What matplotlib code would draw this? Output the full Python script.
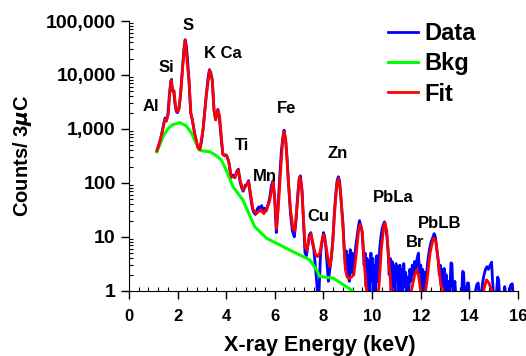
import matplotlib
matplotlib.use('Agg')
import matplotlib.pyplot as plt
from matplotlib.ticker import FixedLocator, LogLocator, NullFormatter, MultipleLocator

plt.rcParams['font.family'] = ['Liberation Sans', 'DejaVu Sans']
plt.rcParams['font.weight'] = 'bold'

# measured spectrum (keV, counts)
data_e = [1.15, 1.20, 1.26, 1.32, 1.38, 1.44, 1.49, 1.54, 1.60, 1.66, 1.72, 1.75, 1.79, 1.84, 1.89, 1.95,
          2.00, 2.06, 2.12, 2.19, 2.26, 2.31, 2.36, 2.41, 2.47, 2.54, 2.61, 2.70, 2.78, 2.85, 2.92, 2.99,
          3.05, 3.12, 3.18, 3.25, 3.31, 3.37, 3.43, 3.50, 3.56, 3.61, 3.66, 3.72, 3.79, 3.86, 3.93, 4.00,
          4.06, 4.12, 4.20, 4.28, 4.36, 4.44, 4.50, 4.57, 4.64, 4.70, 4.78, 4.86, 4.92, 4.99, 5.06, 5.12,
          5.20, 5.28, 5.34, 5.40, 5.46, 5.52, 5.58, 5.64, 5.70, 5.78, 5.86, 5.93, 6.00, 6.06, 6.12, 6.20,
          6.27, 6.33, 6.38, 6.44, 6.50, 6.56, 6.64, 6.72, 6.80, 6.87, 6.94, 7.00, 7.05, 7.12, 7.18, 7.24,
          7.30, 7.36, 7.42, 7.48, 7.54, 7.60, 7.66, 7.72, 7.76, 7.82, 7.88, 7.94, 8.00, 8.05, 8.10, 8.15,
          8.20, 8.26, 8.32, 8.38, 8.44, 8.50, 8.56, 8.61, 8.66, 8.72, 8.80, 8.86, 8.90, 8.94, 8.98, 9.02,
          9.06, 9.10, 9.14, 9.18, 9.22, 9.28, 9.33, 9.38, 9.43, 9.48, 9.53, 9.58, 9.63, 9.67, 9.71, 9.75,
          9.79, 9.83, 9.87, 9.91, 9.95, 9.99, 10.03, 10.07, 10.11, 10.15, 10.19, 10.23, 10.27, 10.31, 10.36, 10.41,
          10.46, 10.51, 10.56, 10.61, 10.66, 10.70, 10.74, 10.78, 10.82, 10.86, 10.90, 10.94, 10.98, 11.02, 11.06, 11.10,
          11.14, 11.18, 11.22, 11.26, 11.30, 11.34, 11.38, 11.42, 11.46, 11.50, 11.55, 11.60, 11.65, 11.70, 11.75, 11.80,
          11.85, 11.90, 11.95, 12.00, 12.04, 12.08, 12.12, 12.16, 12.20, 12.25, 12.30, 12.36, 12.42, 12.48, 12.55, 12.60,
          12.66, 12.72, 12.76, 12.80, 12.84, 12.88, 12.92, 12.96, 13.00, 13.04, 13.08, 13.12, 13.16, 13.20, 13.24, 13.28,
          13.32, 13.36, 13.40, 13.44, 13.50, 13.56, 13.62, 13.68, 13.72, 13.76, 13.80, 13.86, 13.92, 13.96, 14.00, 14.10,
          14.20, 14.30, 14.36, 14.40, 14.50, 14.55, 14.60, 14.66, 14.72, 14.78, 14.85, 14.91, 14.95, 15.00, 15.10, 15.16,
          15.20, 15.24, 15.30, 15.40, 15.45, 15.50, 15.60, 15.70, 15.76, 15.80]
data_c = [380, 450, 560, 700, 950, 1300, 1600, 1400, 1800, 4000, 7500, 8300, 5200, 5200, 3000, 2100,
          2000, 2400, 4200, 11000, 29000, 45000, 36000, 20000, 8000, 2000, 1450, 850, 560, 440, 420, 600,
          1000, 2200, 4200, 8500, 12500, 11000, 7800, 2200, 1500, 1900, 2300, 1600, 700, 340, 320, 330,
          290, 230, 125, 140, 125, 165, 180, 105, 80, 70, 90, 95, 110, 60, 38, 29,
          26, 33, 36, 30, 38, 28, 34, 30, 36, 50, 90, 110, 45, 12, 30, 130,
          400, 700, 950, 650, 300, 100, 28, 13, 10, 20, 60, 120, 135, 70, 18, 5,
          4.5, 7, 11, 12, 8, 6, 3, 1.5, 0.8, 1, 5, 8, 12, 10, 6, 3,
          1.5, 2.5, 4, 8, 25, 60, 110, 130, 110, 50, 18, 5, 3, 5.5, 2, 4.5,
          1.5, 5.8, 2.2, 5, 2, 4, 7, 10, 15, 20, 16, 13, 6, 3, 5, 1.2,
          4, 0.8, 3.5, 1, 5, 1.5, 4, 0.8, 3, 1, 4.5, 1.5, 3, 6, 10, 14,
          17, 19, 14, 10, 5, 2, 4, 0.8, 3.5, 1.2, 2.8, 0.8, 3.2, 1.5, 2.8, 0.8,
          3, 1, 2.5, 0.8, 3.2, 1.2, 2.2, 0.8, 1.8, 0.8, 2.5, 1.5, 3, 2, 3.5, 2.5,
          4, 5, 2.2, 3, 1, 2.5, 0.8, 2.2, 1.5, 2.5, 4, 6, 8, 9.5, 11.5, 10,
          6, 3.5, 2, 3, 1.2, 2.5, 1, 2.6, 0.8, 2, 0.8, 1.5, 0.8, 1.2, 3.3, 3.2,
          1, 0.8, 1.5, 0.8, 0.8, 0.8, 0.8, 0.8, 2.3, 2.2, 0.8, 0.8, 1.4, 1.4, 0.8, 0.8,
          0.8, 1.3, 1.4, 0.8, 1, 1.5, 2, 2.5, 2.8, 2.5, 3, 3.4, 1.5, 0.8, 0.8, 1.8,
          1.6, 0.8, 0.8, 0.8, 1.2, 0.8, 0.8, 1.3, 1.35, 0.8]

# background
bkg_e = [1.15, 1.25, 1.40, 1.60, 1.80, 2.09, 2.35, 2.57, 2.75, 2.91, 3.05, 3.32, 3.55, 3.80, 4.00,
         4.28, 4.69, 5.17, 5.65, 6.20, 6.75, 7.44, 7.71, 7.85, 8.40, 9.20]
bkg_c = [380, 480, 720, 1000, 1200, 1310, 1150, 840, 560, 410, 390, 380, 330, 267, 174,
         85, 48, 15.5, 9.5, 7.1, 5.3, 3.75, 2.45, 1.85, 1.72, 1.0]

# fitted spectrum
fit_e = [1.15, 1.22, 1.30, 1.40, 1.48, 1.55, 1.62, 1.68, 1.74, 1.80, 1.86, 1.92, 1.98, 2.05, 2.12, 2.20,
         2.27, 2.32, 2.35, 2.40, 2.47, 2.55, 2.61, 2.70, 2.84, 2.91, 3.05, 3.18, 3.32, 3.43, 3.50, 3.57,
         3.66, 3.73, 3.80, 3.87, 3.94, 4.02, 4.10, 4.21, 4.35, 4.49, 4.58, 4.69, 4.80, 4.92, 5.00, 5.10,
         5.24, 5.35, 5.45, 5.55, 5.65, 5.78, 5.93, 6.00, 6.07, 6.15, 6.25, 6.32, 6.38, 6.45, 6.55, 6.65,
         6.75, 6.82, 6.92, 7.02, 7.10, 7.18, 7.25, 7.32, 7.40, 7.48, 7.56, 7.65, 7.75, 7.85, 7.95, 8.02,
         8.10, 8.20, 8.28, 8.38, 8.48, 8.56, 8.62, 8.70, 8.80, 8.90, 8.97, 9.05, 9.15, 9.25, 9.35, 9.45,
         9.52, 9.60, 9.68, 9.77, 9.85, 10.20, 10.28, 10.38, 10.48, 10.53, 10.60, 10.70, 10.80, 11.50, 11.65, 11.75,
         11.83, 11.92, 12.02, 12.15, 12.25, 12.38, 12.50, 12.55, 12.62, 12.72, 12.82, 12.90, 13.00, 14.50, 14.60, 14.70,
         14.80, 14.90, 15.00]
fit_c = [400, 480, 650, 1000, 1500, 1450, 1900, 4500, 8000, 5000, 5000, 2600, 2100, 2300, 4000, 12000,
         30000, 44000, 32000, 16000, 8100, 1950, 1480, 830, 450, 410, 960, 4000, 12400, 8100, 2240, 1470,
         2240, 1700, 720, 330, 330, 320, 250, 130, 130, 175, 110, 74, 85, 105, 65, 32,
         27, 30, 32, 27, 32, 45, 105, 50, 14, 40, 200, 600, 900, 600, 120, 30,
         14, 13, 40, 130, 90, 20, 6.5, 5.7, 9, 11.5, 8, 5, 4.3, 5, 9, 11,
         7, 3.5, 2.8, 8, 40, 100, 120, 70, 15, 2.5, 1.8, 1.7, 1.8, 2, 5, 14,
         17, 12, 3, 1.0, 0.6, 0.6, 1.2, 6, 16, 18, 13, 3, 0.8, 0.6, 1.2, 2,
         2.45, 1.8, 0.8, 0.7, 1.5, 5, 9, 9.5, 8, 3.5, 1.3, 1.1, 0.6, 0.6, 1.1, 1.6,
         1.4, 1.05, 0.6]

# element labels
elem_names = ['Al', 'Si', 'S', 'K Ca', 'Ti', 'Fe', 'Mn', 'Cu', 'Zn', 'PbLa', 'Br', 'PbLB']
elem_e = [0.92, 1.52, 2.43, 3.87, 4.67, 6.50, 5.58, 7.78, 8.60, 10.86, 11.76, 12.76]
elem_c = [2600, 14000, 81000, 24500, 500, 2400, 130, 24, 355, 54, 7.8, 18]

fig = plt.figure(figsize=(5.26, 3.56), dpi=100)
ax = fig.add_axes([0.245, 0.183, 0.74, 0.758])

ax.plot(data_e, data_c, color='#0000ff', lw=2.0, label='Data')
ax.plot(bkg_e, bkg_c, color='#00ff00', lw=2.2, label='Bkg')
ax.plot(fit_e, fit_c, color='#ff0000', lw=2.0, label='Fit')

for name, e, c in zip(elem_names, elem_e, elem_c):
    ax.text(e, c, name, ha='center', va='center', fontsize=12, fontweight='bold')

ax.set_yscale('log')
ax.set_xlim(0, 16)
ax.set_ylim(1, 100000)
yt = [1, 10, 100, 1000, 10000, 100000]
ax.yaxis.set_major_locator(FixedLocator(yt))
ax.set_yticklabels(['{:,}'.format(v) for v in yt])
ax.yaxis.set_minor_locator(LogLocator(base=10, subs=range(2, 10)))
ax.yaxis.set_minor_formatter(NullFormatter())
ax.xaxis.set_major_locator(MultipleLocator(2))
ax.xaxis.set_minor_locator(MultipleLocator(0.4))

for s in ['top', 'right']:
    ax.spines[s].set_visible(False)
ax.tick_params(which='major', direction='out', length=6, width=1)
ax.tick_params(which='minor', direction='in', length=3, width=0.8)
ax.tick_params(axis='x', labelsize=12, pad=7)
ax.tick_params(axis='y', labelsize=14)

ax.set_xlabel('X-ray Energy (keV)', fontsize=15.5, fontweight='bold')
ax.set_ylabel('Counts/ 3$\\mu$C', fontsize=14.5, fontweight='bold')
ax.xaxis.set_label_coords(0.49, -0.165)
ax.yaxis.set_label_coords(-0.245, 0.5)

ax.legend(loc='upper left', bbox_to_anchor=(0.665, 0.995), frameon=False, fontsize=17,
          handlelength=1.3, handletextpad=0.25, labelspacing=0.3, borderpad=0, borderaxespad=0)

fig.savefig('out.png', dpi=100)
